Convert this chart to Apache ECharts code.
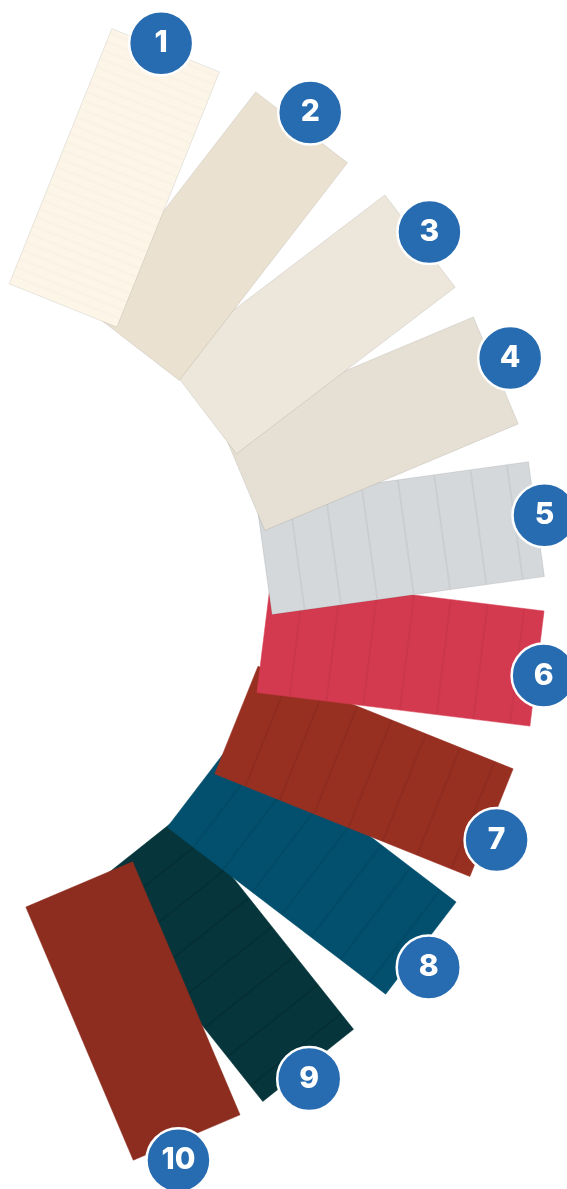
<!DOCTYPE html>
<html>
<head>
<meta charset="utf-8">
<style>
  html, body { margin: 0; padding: 0; background: #fff; }
  #main { width: 567px; height: 1189px; }
</style>
<script src="https://cdn.jsdelivr.net/npm/echarts@6/dist/echarts.min.js"></script>
</head>
<body>
<div id="main"></div>
<script>
// swatch numbers, top of the fan to bottom
var labels = ['1', '2', '3', '4', '5', '6', '7', '8', '9', '10'];
// where the inner edge of each swatch sits, seen from the hub of the fan
var fanAngles = [69.6, 54.6, 37.4, 22.5, 7.2, -7.2, -23.8, -36.8, -54.4, -66.7];
var fanRadius = [310, 308, 310, 311, 311.5, 311.5, 307.5, 309, 312.6, 314];
// how far each swatch is turned (degrees)
var tilts = [68.1, 52.3, 37.3, 22.8, 7.9, -7.0, -21.9, -37.4, -51.5, -67.0];
// number badges
var badgeAngles = [69.55, 53.7, 37.5, 23.2, 7.8, -7.7, -24.25, -38.1, -53.75, -68.4];
var badgeRadius = [590, 600, 598, 604, 595, 594, 594, 602, 599, 607];

// looks
var colors = ['#fdf6e8', '#ebe1d1', '#ede6da', '#e6e0d4', '#d5d8da',
              '#d43a4f', '#983022', '#03506e', '#06363b', '#8d2d1f'];
var stripeGap = [9, 0, 0, 0, 36.7, 37, 37, 37, 37, 0];
var stripeAlpha = [0.012, 0, 0, 0, 0.045, 0.045, 0.07, 0.07, 0.12, 0];
var drawOrder = [8, 7, 6, 5, 4, 3, 2, 1, 0, 9]; // which swatch lies on top of which
var SW_LEN = 275, SW_W = 116;

var swatchData = drawOrder.map(function (i) {
  return [fanAngles[i], fanRadius[i], tilts[i], i];
});

var badgeData = labels.map(function (lab, i) {
  var t = badgeAngles[i] * Math.PI / 180;
  return { value: [badgeRadius[i] * Math.cos(t), badgeRadius[i] * Math.sin(t)], name: lab };
});

function renderSwatch(params, api) {
  var th = api.value(0) * Math.PI / 180;
  var r = api.value(1);
  var a = api.value(2) * Math.PI / 180;
  var i = api.value(3);
  var mx = r * Math.cos(th), my = r * Math.sin(th);
  var dx = Math.cos(a), dy = Math.sin(a);
  var nx = -dy, ny = dx;
  function pt(s, t) {
    return api.coord([mx + s * dx + t * nx, my + s * dy + t * ny]);
  }
  var h = SW_W / 2;
  var light = i < 5;
  var children = [{
    type: 'polygon',
    shape: { points: [pt(0, -h), pt(SW_LEN, -h), pt(SW_LEN, h), pt(0, h)] },
    style: {
      fill: colors[i],
      stroke: light ? 'rgba(0,0,0,0.13)' : colors[i],
      lineWidth: light ? 0.7 : 0.5
    }
  }];
  if (stripeGap[i] > 0) {
    var wide = stripeGap[i] > 20;
    var start = wide ? 33 : stripeGap[i];
    for (var s = start; s < SW_LEN - 3; s += stripeGap[i]) {
      var p1 = pt(s, -h + 0.5), p2 = pt(s, h - 0.5);
      children.push({
        type: 'line',
        shape: { x1: p1[0], y1: p1[1], x2: p2[0], y2: p2[1] },
        style: { stroke: 'rgba(0,0,0,' + stripeAlpha[i] + ')', lineWidth: wide ? 2 : 3 }
      });
    }
  }
  return { type: 'group', children: children };
}

var chart = echarts.init(document.getElementById('main'));
chart.setOption({
  animation: false,
  grid: { left: 0, right: 0, top: 0, bottom: 0 },
  xAxis: { type: 'value', min: 45, max: 612, show: false },
  yAxis: { type: 'value', min: -593, max: 596, show: false },
  series: [
    {
      type: 'custom',
      silent: true,
      clip: false,
      renderItem: renderSwatch,
      data: swatchData,
      z: 2
    },
    {
      type: 'scatter',
      silent: true,
      symbol: 'circle',
      symbolSize: 64,
      data: badgeData,
      itemStyle: { color: '#276bb0', borderColor: '#fff', borderWidth: 2.5, opacity: 1 },
      label: {
        show: true,
        position: 'inside',
        formatter: '{b}',
        color: '#fff',
        fontFamily: 'Inter',
        fontWeight: 800,
        fontSize: 30
      },
      z: 5
    }
  ]
});
</script>
</body>
</html>
